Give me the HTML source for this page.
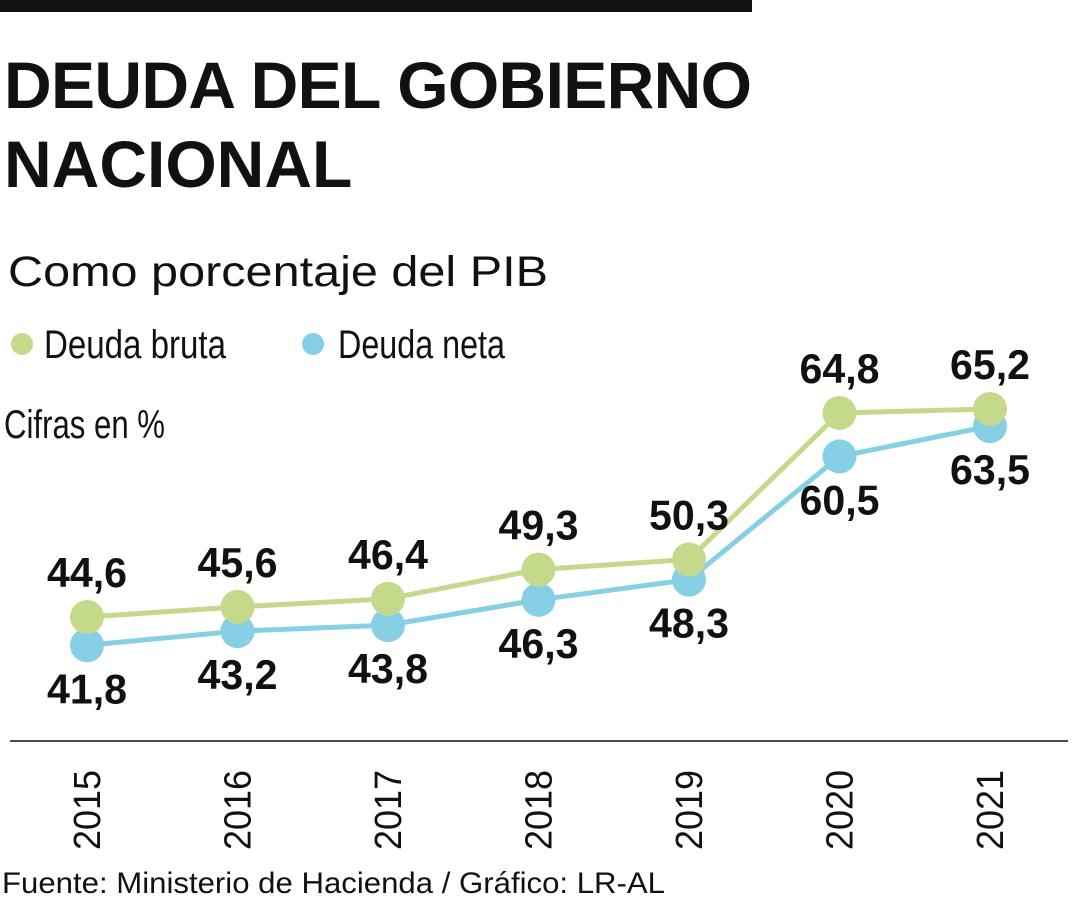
<!DOCTYPE html>
<html><head><meta charset="utf-8"><style>
body{margin:0;background:#fff;}
svg{display:block;}
.t{font-family:"Liberation Sans",sans-serif;font-weight:bold;fill:#111;}
.n{font-family:"Liberation Sans Narrow","Liberation Sans",sans-serif;fill:#111;}
</style></head><body>
<svg id="chart" width="1080" height="900" viewBox="0 0 1080 900">
<rect x="0" y="0" width="752" height="12" fill="#111"/>
<text class="t" x="4" y="108" font-size="66" textLength="748">DEUDA DEL GOBIERNO</text>
<text class="t" x="4" y="187" font-size="66">NACIONAL</text>
<text x="8" y="286" font-size="43" textLength="540" lengthAdjust="spacingAndGlyphs" font-family="Liberation Sans,sans-serif" fill="#111">Como porcentaje del PIB</text>
<circle cx="22" cy="344" r="11" fill="#c5d98a"/>
<text class="n" x="44" y="358" font-size="40" textLength="182" lengthAdjust="spacingAndGlyphs">Deuda bruta</text>
<circle cx="313" cy="344" r="11" fill="#86cfe4"/>
<text class="n" x="338" y="358" font-size="40" textLength="167" lengthAdjust="spacingAndGlyphs">Deuda neta</text>
<text class="n" x="4" y="438" font-size="40" textLength="161" lengthAdjust="spacingAndGlyphs">Cifras en %</text>
<line x1="10" y1="741" x2="1068" y2="741" stroke="#111" stroke-width="1.5"/>
<g id="marks"></g>
<text x="2" y="893" font-size="30" textLength="663" lengthAdjust="spacingAndGlyphs" font-family="Liberation Sans,sans-serif" fill="#111">Fuente: Ministerio de Hacienda / Gráfico: LR-AL</text>
</svg>
<script>
const years = ["2015","2016","2017","2018","2019","2020","2021"];
const bruta = [44.6,45.6,46.4,49.3,50.3,64.8,65.2];
const neta = [41.8,43.2,43.8,46.3,48.3,60.5,63.5];
const ns="http://www.w3.org/2000/svg";
const g=document.getElementById('marks');
function xs(i){return 87+i*150.5;}
function ys(v){return 617-(v-44.6)*10.1;}
function mk(t,a){const e=document.createElementNS(ns,t);for(const k in a)e.setAttribute(k,a[k]);g.appendChild(e);return e;}
function fmt(v){return v.toFixed(1).replace('.',',');}
function series(vals,color,name){
  const p=mk('polyline',{points:vals.map((v,i)=>xs(i)+','+ys(v)).join(' '),fill:'none',stroke:color,'stroke-width':5});
  
  
  vals.forEach((v,i)=>{
    const c=mk('circle',{cx:xs(i),cy:ys(v),r:17,fill:color});
    
    
  });
}
function labels(vals,name,above){
  vals.forEach((v,i)=>{
    const t=mk('text',{x:xs(i),y:ys(v)+(above?-30:58),'text-anchor':'middle','font-size':42,'font-weight':'bold',class:'n',textLength:80,lengthAdjust:'spacingAndGlyphs'});
    t.textContent=fmt(v);
    
    
  });
}
series(neta,'#86cfe4','neta');
series(bruta,'#c5d98a','bruta');
labels(bruta,'bruta',true);
labels(neta,'neta',false);
years.forEach((y,i)=>{
  const t=mk('text',{x:0,y:0,'text-anchor':'middle','font-size':38,class:'n',textLength:80,lengthAdjust:'spacingAndGlyphs',transform:'translate('+(xs(i)+13)+',810) rotate(-90)'});
  t.textContent=y;
  
  
});
</script>
</body></html>
